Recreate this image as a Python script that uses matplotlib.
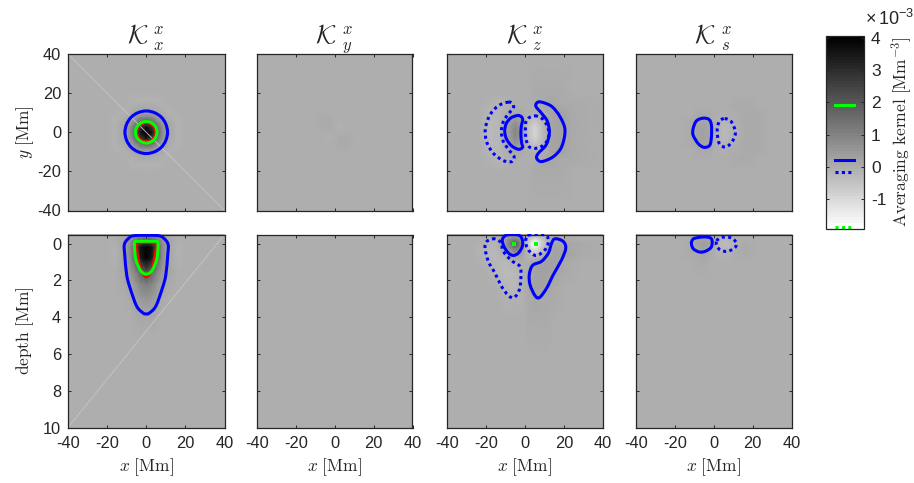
import numpy as np
import matplotlib
matplotlib.use('Agg')
import matplotlib.pyplot as plt
from matplotlib.cm import ScalarMappable
from matplotlib.colors import Normalize
from matplotlib.path import Path
from matplotlib.patches import PathPatch

plt.rcParams['font.family'] = ['Liberation Sans', 'DejaVu Sans']
plt.rcParams['mathtext.fontset'] = 'cm'
plt.rcParams['axes.unicode_minus'] = False

# ---------- values (units 1e-3 Mm^-3) ----------
title_main = r'$\mathcal{K}$'
title_sup = r'$x$'
title_subs = [r'$x$', r'$y$', r'$z$', r'$s$']
x_ticks = [-40, -20, 0, 20, 40]
y_ticks = [-40, -20, 0, 20, 40]
depth_ticks = [0, 2, 4, 6, 8, 10]
cbar_ticks = [-1, 0, 1, 2, 3, 4]
level_green, level_blue, level_blue_neg, level_green_neg = 1.93, 0.21, -0.17, -1.87

# Kxx, horizontal cut (quadrant: x >= 0, y >= 0)
kxx_h_x = [0, 3, 5.5, 8, 11, 16, 21, 40]
kxx_h_y = [0, 3, 5.5, 8, 11, 16, 21, 40]
kxx_h = [[4.6, 3.6, 1.9, 0.85, 0.2, -0.1, 0, 0],
         [3.6, 2.6, 1.5, 0.7, 0.2, -0.1, 0, 0],
         [1.9, 1.5, 0.95, 0.4, 0.1, -0.1, 0, 0],
         [0.85, 0.7, 0.4, 0.2, 0.0, -0.08, 0, 0],
         [0.2, 0.2, 0.1, 0.0, -0.08, -0.03, 0, 0],
         [-0.1, -0.1, -0.1, -0.08, -0.03, 0, 0, 0],
         [0, 0, 0, 0, 0, 0, 0, 0],
         [0, 0, 0, 0, 0, 0, 0, 0]]
# Kxx, depth cut (x >= 0)
kxx_v_x = [0, 3, 5.5, 8, 11, 16, 21, 40]
kxx_v_d = [-0.5, -0.15, 0.2, 0.8, 1.5, 2.2, 3, 3.8, 5, 10]
kxx_v = [[0.2, 0.2, 0.2, 0.05, 0.0, 0, 0, 0],
         [2.4, 2.2, 1.6, 0.6, 0.15, -0.05, 0, 0],
         [4.5, 3.6, 2.0, 0.9, 0.2, -0.08, 0, 0],
         [4.6, 3.4, 1.8, 0.8, 0.2, -0.08, 0, 0],
         [2.2, 1.7, 1.0, 0.5, 0.15, -0.06, 0, 0],
         [1.15, 0.9, 0.55, 0.25, 0.05, -0.05, 0, 0],
         [0.55, 0.45, 0.25, 0.1, 0, -0.03, 0, 0],
         [0.2, 0.15, 0.07, 0, 0, 0, 0, 0],
         [0, 0, 0, 0, 0, 0, 0, 0],
         [0, 0, 0, 0, 0, 0, 0, 0]]
# Kxy, horizontal cut
kxy_h_x = [-40, -10, -6, -3, 0, 3, 6, 10, 40]
kxy_h_y = [-40, -10, -6, -3, 0, 3, 6, 10, 40]
kxy_h = [[0, 0, 0, 0, 0, 0, 0, 0, 0],
         [0, 0, 0, 0, 0, 0, 0, 0, 0],
         [0, 0, -0.04, -0.06, 0, 0.04, 0.03, 0, 0],
         [0, 0, -0.06, -0.09, 0, 0.07, 0.05, 0, 0],
         [0, 0, 0, 0, 0, 0, 0, 0, 0],
         [0, 0, 0.05, 0.07, 0, -0.09, -0.06, 0, 0],
         [0, 0, 0.03, 0.04, 0, -0.06, -0.04, 0, 0],
         [0, 0, 0, 0, 0, 0, 0, 0, 0],
         [0, 0, 0, 0, 0, 0, 0, 0, 0]]
# Kxz, horizontal cut (x >= 0, y >= 0; odd in x)
kxz_h_x = [0, 2, 5, 9, 13, 18, 24, 40]
kxz_h_y = [0, 3, 6, 10, 14, 20, 40]
kxz_h = [[0, -0.5, -0.95, -0.3, 0.2, 0.3, 0.05, 0],
         [0, -0.47, -0.85, -0.3, 0.2, 0.3, 0.05, 0],
         [0, -0.3, -0.55, -0.2, 0.2, 0.3, 0.05, 0],
         [0, -0.05, -0.1, 0, 0.2, 0.25, 0.05, 0],
         [0, 0, 0, 0.08, 0.2, 0.12, 0.03, 0],
         [0, 0, 0.03, 0.05, 0.05, 0.03, 0.02, 0],
         [0, 0, 0, 0, 0, 0, 0, 0]]
# Kxz, depth cut (x >= 0; odd in x)
kxz_v_x = [0, 2, 3.5, 5.5, 8, 11, 15, 20, 28, 40]
kxz_v_d = [-0.5, -0.2, 0, 0.25, 0.6, 1, 1.6, 2.4, 3, 4, 6, 10]
kxz_v = [[0, -0.05, -0.1, -0.15, -0.1, -0.05, 0, 0, 0, 0],
         [0, -0.5, -1.0, -1.2, -0.8, -0.2, 0.1, 0.1, 0, 0],
         [0, -0.8, -1.6, -2.1, -1.0, -0.25, 0.2, 0.15, 0.03, 0],
         [0, -0.6, -1.2, -1.3, -0.7, -0.15, 0.25, 0.2, 0.03, 0],
         [0, -0.25, -0.4, -0.3, -0.18, 0.1, 0.3, 0.22, 0.03, 0],
         [0, 0, 0.1, 0.2, 0.25, 0.3, 0.25, 0.1, 0.02, 0],
         [0, 0.1, 0.2, 0.3, 0.3, 0.28, 0.2, 0.05, 0, 0],
         [0, 0.12, 0.2, 0.28, 0.25, 0.2, 0.05, 0.02, 0, 0],
         [0, 0.08, 0.12, 0.15, 0.12, 0.08, 0.03, 0, 0, 0],
         [0, 0.04, 0.06, 0.06, 0.05, 0.03, 0.01, 0, 0, 0],
         [0, 0.02, 0.02, 0.02, 0.02, 0.01, 0, 0, 0, 0],
         [0, 0, 0, 0, 0, 0, 0, 0, 0, 0]]
# Ks, horizontal cut (x >= 0, y >= 0; odd in x)
kxs_h_x = [0, 2, 5, 8, 11, 16, 22, 28, 40]
kxs_h_y = [0, 3, 6, 9, 14, 20, 40]
kxs_h = [[0, -0.15, -0.3, -0.25, -0.12, 0.03, 0.05, 0, 0],
         [0, -0.13, -0.28, -0.22, -0.1, 0.03, 0.05, 0, 0],
         [0, -0.08, -0.2, -0.13, -0.06, 0.03, 0.05, 0, 0],
         [0, -0.03, -0.08, -0.05, 0, 0.03, 0.04, 0, 0],
         [0, 0, 0, 0.02, 0.03, 0.03, 0.02, 0, 0],
         [0, 0, 0, 0, 0, 0, 0, 0, 0],
         [0, 0, 0, 0, 0, 0, 0, 0, 0]]
# Ks, depth cut
kxs_v_x = [0, 2, 5, 8, 11, 16, 22, 40]
kxs_v_d = [-0.5, -0.2, 0.1, 0.5, 1, 2, 10]
kxs_v = [[0, 0, -0.05, -0.05, 0, 0, 0, 0],
         [0, -0.15, -0.3, -0.25, -0.1, 0.02, 0, 0],
         [0, -0.17, -0.33, -0.28, -0.12, 0.03, 0, 0],
         [0, -0.07, -0.15, -0.1, -0.03, 0.03, 0, 0],
         [0, -0.02, -0.04, -0.03, 0, 0.02, 0, 0],
         [0, 0, 0, 0, 0, 0, 0, 0],
         [0, 0, 0, 0, 0, 0, 0, 0]]

# contour outlines
kxx_h_blue = [(0, 10.9), (4.2, 10), (7.7, 7.7), (10, 4.2), (10.9, 0), (10, -4.2), (7.7, -7.7), (4.2, -10),
              (0, -10.9), (-4.2, -10), (-7.7, -7.7), (-10, -4.2), (-10.9, 0), (-10, 4.2), (-7.7, 7.7), (-4.2, 10)]
kxx_h_green = [(0, 5.5), (2.1, 5.1), (3.9, 3.9), (5.1, 2.1), (5.5, 0), (5.1, -2.1), (3.9, -3.9), (2.1, -5.1),
               (0, -5.5), (-2.1, -5.1), (-3.9, -3.9), (-5.1, -2.1), (-5.5, 0), (-5.1, 2.1), (-3.9, 3.9), (-2.1, 5.1)]
kxx_h_red = [(0, 4.5), (1.7, 4.2), (3.2, 3.2), (4.2, 1.7), (4.5, 0), (4.2, -1.7), (3.2, -3.2), (1.7, -4.2),
             (0, -4.5), (-1.7, -4.2), (-3.2, -3.2), (-4.2, -1.7), (-4.5, 0), (-4.2, 1.7), (-3.2, 3.2), (-1.7, 4.2)]
kxx_v_blue = [(-5.8, -0.44), (-9.2, -0.27), (-11.2, 0.05), (-11, 0.6), (-10, 1.7), (-8.3, 2.4), (-4.9, 3.4),
              (-1.5, 3.78), (0, 3.82), (1.5, 3.78), (4.9, 3.4), (8.3, 2.4), (10, 1.7), (11, 0.6), (11.2, 0.05),
              (9.2, -0.27), (5.8, -0.44)]
kxx_v_green = [(-4, -0.13), (-5.8, -0.1), (-6, 0.24), (-5.3, 0.87), (-3.2, 1.42), (-1.4, 1.62), (0, 1.65),
               (1.4, 1.62), (3.2, 1.42), (5.3, 0.87), (6, 0.24), (5.8, -0.1), (4, -0.13)]
kxx_v_red = [(-4.8, 0.0), (-4.6, 0.42), (-3.2, 1.24), (-1.5, 1.7), (0, 1.82), (1.5, 1.7), (3.2, 1.24),
             (4.6, 0.42), (4.8, 0.0)]

kxz_h_solid_in = [(-2.6, 8.4), (-1.2, 6.7), (-1.9, 2.9), (-2.1, -1.4), (-1.7, -5.6), (-1.2, -7.7), (-3.4, -8.7),
                  (-6.8, -7), (-9.4, -3.6), (-10.4, 0.3), (-9.7, 4.3), (-7.4, 7.2), (-4.6, 8.4)]
kxz_h_dot_in = [(5.1, 8.4), (8.5, 7.2), (11.1, 3.8), (12.3, -0.5), (11.1, -4.8), (7.7, -7.7), (4.3, -8.2),
                (1.7, -7), (0.5, -3.1), (0.2, 1.2), (0.5, 5.5), (2.2, 7.5)]
kxz_h_dot_out = [(-8.5, 15.4), (-13.7, 13.5), (-17.9, 8.9), (-20.3, 2.1), (-19.7, -4.8), (-16.2, -10.8),
                 (-11.1, -14.5), (-6.8, -15), (-5.6, -12.5), (-8.5, -8.7), (-11.1, -4.8), (-12.1, 0.3),
                 (-11.1, 5.5), (-8.5, 9.4), (-6, 12.3), (-6.3, 14.5)]
kxz_h_solid_out = [(8.5, 15.4), (13.7, 13.2), (17.9, 8), (20.5, 1.2), (18.8, -7.4), (14.5, -12.5), (8.5, -15),
                   (6, -13.3), (6.8, -10.8), (10.8, -6.5), (12.5, -0.5), (11.5, 5.5), (8.5, 9.7), (5.6, 13.2),
                   (6.3, 15.2)]
kxz_v_solid_in = [(-9.4, -0.47), (-3.4, -0.47), (-1.4, -0.22), (-1.4, 0.15), (-3.4, 0.51), (-6, 0.64),
                  (-8.5, 0.51), (-10.8, 0.15), (-11.6, -0.22)]
kxz_v_dot_in = [(1.7, -0.47), (10.3, -0.47), (12, -0.13), (10.3, 0.33), (6, 0.64), (2.6, 0.45), (0.5, 0.05),
                (0.5, -0.27)]
kxz_v_dot_out = [(-15.4, -0.27), (-19.5, -0.13), (-20.5, 0.24), (-18.8, 0.96), (-15.4, 1.6), (-12, 2.33),
                 (-8.5, 2.82), (-5.6, 2.93), (-2.9, 2.51), (-2.1, 1.87), (-2.6, 1.24), (-6.8, 0.93),
                 (-11.1, 0.42), (-12.3, -0.04)]
kxz_v_solid_out = [(15.4, -0.27), (19.5, -0.13), (20.9, 0.24), (18.8, 0.87), (14.5, 1.69), (11.1, 2.42),
                   (7.4, 2.93), (5.1, 2.82), (2.6, 2.24), (2.2, 1.69), (3.9, 1.18), (8.5, 0.96), (12, 0.51),
                   (13.7, -0.04)]
kxz_v_green_pos = (-5.4, 0.02)
kxz_v_green_neg = (5.6, 0.02)

kxs_h_solid = [(-5.5, 7.2), (-2.4, 6.5), (-1.2, 3.6), (-1.2, -2.4), (-2.1, -6.7), (-5.1, -7.7), (-8, -5.8),
               (-10.6, -1.5), (-10.6, 1.9), (-8.9, 5.8)]
kxs_h_dot = [(5.6, 7), (9.1, 5.3), (11.1, 0.2), (9.9, -4.1), (6.5, -7.5), (3.1, -6.2), (1.9, -1.5), (1.9, 2.7),
             (3.1, 5.8)]
kxs_v_solid = [(-9.7, -0.3), (-5, -0.37), (-1.5, -0.3), (-0.8, -0.05), (-1.5, 0.22), (-4.5, 0.42), (-7.5, 0.45),
               (-10.5, 0.28), (-11.5, 0), (-11, -0.2)]
kxs_v_dot = [(1.5, -0.15), (3.5, -0.32), (7, -0.37), (10, -0.25), (11.8, 0), (10.5, 0.25), (7, 0.42), (3.5, 0.35),
             (1.5, 0.12)]

# ---------- figure ----------
W, H = 914, 483
fig = plt.figure(figsize=(W / 100, H / 100), dpi=100)
VMIN, VMAX = -1.95, 4.08
cmap = plt.get_cmap('gray_r').resampled(64)
norm = Normalize(VMIN, VMAX)
INK = '#262626'
BLUE, GREEN, RED = '#0000ff', '#00ff00', '#ff0000'
LW = 2.2
DOTS = (0, (1.0, 1.1))


def make_ax(l, t, r, b):
    return fig.add_axes([l / W, 1 - b / H, (r - l) / W, (b - t) / H])


def sym_x(x):
    x = np.asarray(x, float)
    return np.r_[-x[:0:-1], x]


def mirror_x(z, sign=1):
    z = np.asarray(z, float)
    return np.hstack([sign * z[:, :0:-1], z])


def mirror_y(z):
    return np.vstack([z[:0:-1], z])


def outline(ax, pts, color, dotted=False, lw=LW, z=3):
    """Closed smooth Bezier outline through the read vertices."""
    p = np.array(pts, float)
    n = len(p)
    verts = [p[0]]
    codes = [Path.MOVETO]
    for k in range(n):
        p0, p1, p2, p3 = p[(k - 1) % n], p[k], p[(k + 1) % n], p[(k + 2) % n]
        verts += [p1 + (p2 - p0) / 6, p2 - (p3 - p1) / 6, p2]
        codes += [Path.CURVE4] * 3
    ax.add_patch(PathPatch(Path(verts, codes), fill=False, edgecolor=color, lw=lw, zorder=z,
                           linestyle=DOTS if dotted else '-', capstyle='butt', joinstyle='round'))


lefts = [68, 257, 447, 636]
rights = [224.5, 412.5, 603, 791.5]
axes_top, axes_bot = [], []
for i in range(4):
    axes_top.append(make_ax(lefts[i], 54, rights[i], 210.5))
    axes_bot.append(make_ax(lefts[i], 234.5, rights[i], 427.5))

fields_top = [
    (sym_x(kxx_h_x), sym_x(kxx_h_y), mirror_y(mirror_x(kxx_h))),
    (np.array(kxy_h_x), np.array(kxy_h_y), np.array(kxy_h)),
    (sym_x(kxz_h_x), sym_x(kxz_h_y), mirror_y(mirror_x(kxz_h, -1))),
    (sym_x(kxs_h_x), sym_x(kxs_h_y), mirror_y(mirror_x(kxs_h, -1))),
]
fields_bot = [
    (sym_x(kxx_v_x), np.array(kxx_v_d), mirror_x(kxx_v)),
    None,
    (sym_x(kxz_v_x), np.array(kxz_v_d), mirror_x(kxz_v, -1)),
    (sym_x(kxs_v_x), np.array(kxs_v_d), mirror_x(kxs_v, -1)),
]

for i in range(4):
    at, ab = axes_top[i], axes_bot[i]
    ab.set_facecolor(cmap(norm(0)))
    at.set_facecolor(cmap(norm(0)))
    X, Y, Z = fields_top[i]
    at.pcolormesh(X, Y, Z, cmap=cmap, norm=norm, shading='gouraud', rasterized=True)
    if fields_bot[i] is not None:
        X, Y, Z = fields_bot[i]
        ab.pcolormesh(X, Y, Z, cmap=cmap, norm=norm, shading='gouraud', rasterized=True)
    at.set_xlim(-40, 40)
    at.set_ylim(-40, 40)
    ab.set_xlim(-40, 40)
    ab.set_ylim(10, -0.5)
    at.set_xticks(x_ticks)
    at.set_xticklabels([])
    at.set_yticks(y_ticks)
    ab.set_xticks(x_ticks)
    ab.set_yticks(depth_ticks)
    for ax in (at, ab):
        ax.tick_params(direction='in', length=2.2, width=0.7, top=True, right=True, color=INK,
                       labelcolor=INK, labelsize=11.8)
        ax.tick_params(axis='x', pad=6)
        ax.tick_params(axis='y', pad=5)
        for s in ax.spines.values():
            s.set_linewidth(0.9)
            s.set_color(INK)
    if i > 0:
        at.set_yticklabels([])
        ab.set_yticklabels([])
    ab.set_xlabel(r'$x\ \mathrm{[Mm]}$', fontsize=12.5, color=INK, labelpad=4)
    for txt, dx, dy, size, ha in [(title_main, 2, 11, 19, 'right'),
                                  (title_sup, 7, 20.5, 12, 'left'),
                                  (title_subs[i], 7, 4, 12, 'left')]:
        at.annotate(txt, xy=(0.5, 1), xycoords='axes fraction', xytext=(dx, dy), textcoords='offset pixels',
                    fontsize=size, color=INK, ha=ha, va='baseline', annotation_clip=False)

axes_top[0].set_ylabel(r'$y\ \mathrm{[Mm]}$', fontsize=12.5, color=INK)
axes_bot[0].set_ylabel(r'$\mathrm{depth\ [Mm]}$', fontsize=12.5, color=INK)
axes_top[0].yaxis.set_label_coords(-0.295 + 0.09, 0.5)
axes_bot[0].yaxis.set_label_coords(-0.295 + 0.09, 0.5)

# faint diagonal artefacts in the Kxx panels
axes_top[0].plot([-40, 40], [40, -40], color='#c6c6c6', lw=0.6, zorder=2)
axes_bot[0].plot([-40, 40], [10, -0.5], color='#c6c6c6', lw=0.6, zorder=2)

# contours
a = axes_top[0]
outline(a, kxx_h_blue, BLUE)
outline(a, kxx_h_red, RED, lw=0.9)
outline(a, kxx_h_green, GREEN)
a = axes_bot[0]
outline(a, kxx_v_red, RED, lw=1.6)
outline(a, kxx_v_blue, BLUE)
outline(a, kxx_v_green, GREEN)
a = axes_top[2]
outline(a, kxz_h_solid_in, BLUE)
outline(a, kxz_h_solid_out, BLUE)
outline(a, kxz_h_dot_in, BLUE, dotted=True)
outline(a, kxz_h_dot_out, BLUE, dotted=True)
a = axes_bot[2]
outline(a, kxz_v_solid_in, BLUE)
outline(a, kxz_v_solid_out, BLUE)
outline(a, kxz_v_dot_in, BLUE, dotted=True)
outline(a, kxz_v_dot_out, BLUE, dotted=True)
a.plot(*kxz_v_green_pos, 's', color=GREEN, ms=2.6, mew=0, zorder=4)
a.plot(*kxz_v_green_neg, 's', color=GREEN, ms=2.6, mew=0, zorder=4)
a = axes_top[3]
outline(a, kxs_h_solid, BLUE)
outline(a, kxs_h_dot, BLUE, dotted=True)
a = axes_bot[3]
outline(a, kxs_v_solid, BLUE)
outline(a, kxs_v_dot, BLUE, dotted=True)

# colour bar
cax = make_ax(825.5, 35.5, 864, 229.5)
cb = fig.colorbar(ScalarMappable(norm=norm, cmap=cmap), cax=cax)
cb.set_ticks(cbar_ticks)
cb.set_ticklabels([str(t) for t in cbar_ticks])
cb.ax.tick_params(direction='in', length=2.2, width=0.7, color=INK, labelcolor=INK, labelsize=12.5, pad=5,
                  left=True, right=True)
cb.outline.set_linewidth(0.9)
cb.outline.set_edgecolor(INK)
cb.ax.plot([0.25, 0.75], [level_green] * 2, color=GREEN, lw=LW)
cb.ax.plot([0.25, 0.75], [level_blue] * 2, color=BLUE, lw=LW)
cb.ax.plot([0.25, 0.75], [level_blue_neg] * 2, color=BLUE, lw=LW, linestyle=DOTS)
cb.ax.plot([0.25, 0.75], [level_green_neg] * 2, color=GREEN, lw=LW, linestyle=DOTS)
cb.ax.set_xlim(0, 1)
cb.ax.set_ylim(VMIN, VMAX)
fig.text(865 / W, 1 - 25 / H, r'$\mathregular{\times\,10^{-3}}$', fontsize=13, color=INK, ha='left', va='baseline')
fig.text(902 / W, 1 - 132 / H, r'$\mathrm{Averaging\ kernel\ [Mm^{-3}]}$', fontsize=12.5, color=INK,
         rotation=90, ha='center', va='center')

fig.savefig('out.png', dpi=100)
